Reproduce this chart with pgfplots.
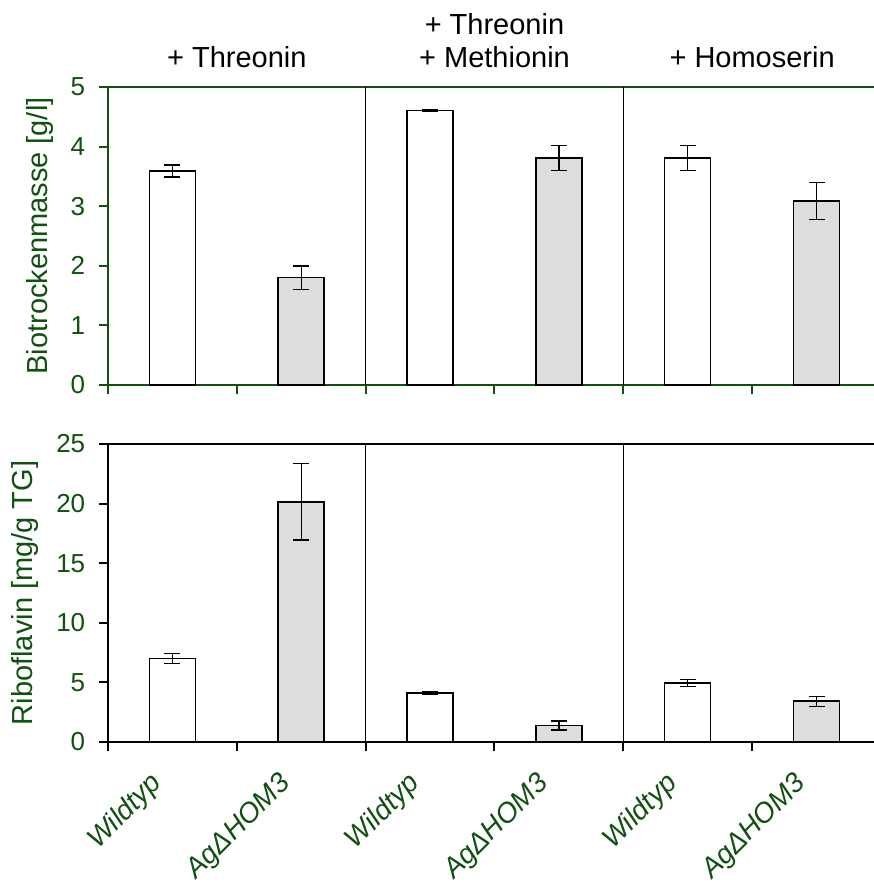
\documentclass[border=0pt]{standalone}
\usepackage{fontspec}
\setmainfont{Liberation Sans}
\usepackage{pgfplots}
\pgfplotsset{compat=1.18}
\definecolor{dg}{RGB}{16,80,16}
\definecolor{barg}{RGB}{221,221,221}

\pgfplotstableread{
x y e
0.5 3.59 0.10
2.5 4.61 0.01
4.5 3.81 0.21
}\topwt
\pgfplotstableread{
x y e
1.5 1.80 0.20
3.5 3.81 0.21
5.5 3.09 0.31
}\topag
\pgfplotstableread{
x y e
0.5 7.00 0.42
2.5 4.11 0.08
4.5 4.95 0.28
}\botwt
\pgfplotstableread{
x y e
1.5 20.15 3.20
3.5 1.38 0.38
5.5 3.42 0.42
}\botag

\pgfplotsset{
  mybase/.style={
    scale only axis, width=386.5pt, height=149pt,
    xmin=0, xmax=6, ymin=0,
    clip=false,
    ybar, bar width=23pt, bar shift=0pt,
    tick pos=left, tick align=outside,
    major tick length=4.7pt,
    xtick={0,1,2,3,4,5},
    /pgf/number format/assume math mode=true,
    yticklabel style={font=\fontsize{13}{13}\selectfont, text=dg, anchor=east, inner sep=0pt, xshift=-6.5pt},
    ylabel style={font=\fontsize{14.5}{17}\selectfont, text=dg, anchor=base},
  },
  wt/.style={draw=black, fill=white, line width=0.75pt,
    error bars/.cd, y dir=both, y explicit,
    error bar style={line width=0.7pt, black},
    error mark options={rotate=90, line width=0.7pt, mark size=4pt, black}},
  ag/.style={draw=black, fill=barg, line width=0.75pt,
    error bars/.cd, y dir=both, y explicit,
    error bar style={line width=0.7pt, black},
    error mark options={rotate=90, line width=0.7pt, mark size=4pt, black}},
}

\begin{document}
\begin{tikzpicture}
\useasboundingbox (-54pt,-250pt) rectangle (383pt,192.5pt);
% top axis
\begin{axis}[mybase,
  at={(0,0)}, anchor=south west,
  ymax=5, ytick={0,1,2,3,4,5},
  xticklabels={},
  axis line style={dg, line width=1pt},
  tick style={dg, line width=1pt},
  ylabel={Biotrockenmasse [g/l]},
  ylabel style={at={([xshift=-30pt]axis description cs:0,0.5)}},
]
\addplot[wt] table[x=x, y=y, y error=e] {\topwt};
\addplot[ag] table[x=x, y=y, y error=e] {\topag};
\draw[black, line width=0.75pt] (axis cs:2,0) -- (axis cs:2,5);
\draw[black, line width=0.75pt] (axis cs:4,0) -- (axis cs:4,5);
\node[anchor=base, font=\fontsize{14.5}{17}\selectfont] at ([yshift=10pt]axis cs:1,5) {+ Threonin};
\node[anchor=base, font=\fontsize{14.5}{17}\selectfont] at ([yshift=26.5pt]axis cs:3,5) {+ Threonin};
\node[anchor=base, font=\fontsize{14.5}{17}\selectfont] at ([yshift=10pt]axis cs:3,5) {+ Methionin};
\node[anchor=base, font=\fontsize{14.5}{17}\selectfont] at ([yshift=10pt]axis cs:5,5) {+ Homoserin};
\end{axis}
% bottom axis
\begin{axis}[mybase,
  at={(0,-178.5pt)}, anchor=south west,
  ymax=25, ytick={0,5,10,15,20,25},
  axis line style={black, line width=1pt},
  tick style={black, line width=1pt},
  xticklabels={Wildtyp, AgΔHOM3, Wildtyp, AgΔHOM3, Wildtyp, AgΔHOM3},
  xticklabel style={font=\fontsize{14}{14}\selectfont\itshape, text=dg, inner sep=0pt,
    xshift=25pt, yshift=-14pt, rotate=45, anchor=east},
  ylabel={Riboflavin [mg/g TG]},
  ylabel style={at={([xshift=-37.5pt]axis description cs:0,0.5)}},
]
\addplot[wt] table[x=x, y=y, y error=e] {\botwt};
\addplot[ag] table[x=x, y=y, y error=e] {\botag};
\draw[black, line width=0.75pt] (axis cs:2,0) -- (axis cs:2,25);
\draw[black, line width=0.75pt] (axis cs:4,0) -- (axis cs:4,25);
\end{axis}
\end{tikzpicture}
\end{document}
